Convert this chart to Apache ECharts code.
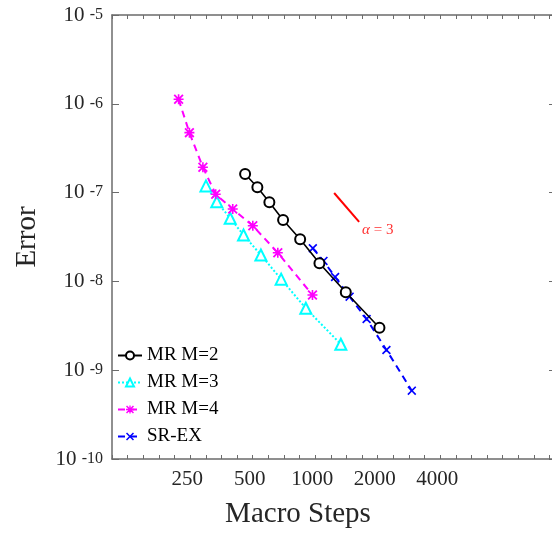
<!DOCTYPE html>
<html>
<head>
<meta charset="utf-8">
<script src="https://cdn.jsdelivr.net/npm/echarts@6/dist/echarts.min.js"></script>
<style>html,body{margin:0;padding:0;background:#fff}#c{width:552px;height:534px}</style>
</head>
<body>
<div id="c"></div>
<script>
// ---- data ----
const xTickLabels = [250, 500, 1000, 2000, 4000];
const yTickExponents = [-10, -9, -8, -7, -6, -5];

const m2Steps = [460, 527, 602, 701, 847, 1049, 1405, 2041];
const m2Error = [1.62e-7, 1.15e-7, 7.78e-8, 4.91e-8, 2.98e-8, 1.60e-8, 7.54e-9, 3.01e-9];

const m3Steps = [298, 336, 390, 452, 548, 686, 902, 1330];
const m3Error = [1.19e-7, 7.9e-8, 5.14e-8, 3.33e-8, 1.98e-8, 1.06e-8, 4.98e-9, 1.96e-9];

const m4Steps = [220, 248, 288, 332, 401, 501, 661, 971];
const m4Error = [1.124e-6, 4.73e-7, 1.93e-7, 9.57e-8, 6.53e-8, 4.24e-8, 2.10e-8, 7.03e-9];

const srSteps = [975, 1097, 1248, 1466, 1770, 2205, 2922];
const srError = [2.36e-8, 1.70e-8, 1.12e-8, 6.73e-9, 3.77e-9, 1.69e-9, 5.88e-10];

const slopeSteps = [1235, 1629];
const slopeError = [9.9e-8, 4.67e-8];
const slopeSymbol = 'α';
const slopeValue = '= 3';

const seriesNames = ['MR M=2', 'MR M=3', 'MR M=4', 'SR-EX'];

// ---- helpers ----
const zip = (xs, ys) => xs.map((x, i) => [x, ys[i]]);
const SERIF = "'Liberation Serif', 'DejaVu Serif', serif";
const AX = '#262626';
const AXLINE = '#6b6b6b';
const X_PATH = 'path://M0,1.3 L1.3,0 L5,3.7 L8.7,0 L10,1.3 L6.3,5 L10,8.7 L8.7,10 L5,6.3 L1.3,10 L0,8.7 L3.7,5 Z';
const STAR_PATH = 'path://M0,1.3 L1.3,0 L5,3.7 L8.7,0 L10,1.3 L6.3,5 L10,8.7 L8.7,10 L5,6.3 L1.3,10 L0,8.7 L3.7,5 Z M0,4.2 L10,4.2 L10,5.8 L0,5.8 Z M4.2,0 L5.8,0 L5.8,10 L4.2,10 Z';

const xMin = 250 * Math.pow(2, -1.25);
const xMax = 250 * Math.pow(2, 5.854);

const chart = echarts.init(document.getElementById('c'), null, {renderer: 'canvas'});

const xAxisCommon = {
  type: 'log', logBase: 2, min: xMin, max: xMax, interval: 0.25,
  axisLine: {show: true, lineStyle: {color: AXLINE, width: 1.5}},
  axisTick: {show: true, inside: true, length: 4, lineStyle: {color: AXLINE, width: 1}},
  splitLine: {show: false}, minorTick: {show: false}
};
const yAxisCommon = {
  type: 'log', logBase: 10, min: 1e-10, max: 1e-5,
  axisLine: {show: true, lineStyle: {color: AXLINE, width: 1.5}},
  axisTick: {show: true, inside: true, length: 7, lineStyle: {color: AXLINE, width: 1}},
  splitLine: {show: false}
};

chart.setOption({
  animation: false,
  backgroundColor: '#fff',
  grid: {left: 112, top: 15, right: -4, bottom: 75, containLabel: false, outerBoundsMode: 'none'},
  legend: {
    data: seriesNames,
    orient: 'vertical', left: 117, top: 346, padding: 0,
    itemWidth: 24, itemHeight: 10, itemGap: 8,
    textStyle: {fontFamily: SERIF, fontSize: 19, color: '#000'}
  },
  xAxis: [
    Object.assign({}, xAxisCommon, {
      position: 'bottom',
      name: 'Macro Steps', nameLocation: 'middle', nameGap: 41,
      nameTextStyle: {fontFamily: SERIF, fontSize: 29, color: AX, padding: [0, 72, 0, 0]},
      axisLabel: {
        margin: 10, fontFamily: SERIF, fontSize: 21, color: AX, padding: [0, 6, 0, 0],
        formatter: function (v) {
          const r = Math.round(v);
          return xTickLabels.some(t => Math.abs(t - v) < 0.5) ? String(r) : '';
        }
      }
    }),
    Object.assign({}, xAxisCommon, {position: 'top', axisLabel: {show: false}})
  ],
  yAxis: [
    Object.assign({}, yAxisCommon, {
      position: 'left',
      name: 'Error', nameLocation: 'middle', nameGap: 70, nameRotate: 90,
      nameTextStyle: {fontFamily: SERIF, fontSize: 29, color: AX},
      axisLabel: {
        margin: 9,
        formatter: function (v) {
          const e = Math.round(Math.log10(v));
          return yTickExponents.indexOf(e) >= 0 ? '{b|10 }{e|' + e + '}' : '';
        },
        rich: {
          b: {fontFamily: SERIF, fontSize: 21, lineHeight: 21, color: AX, padding: [7, 0, 0, 0], verticalAlign: 'bottom'},
          e: {fontFamily: SERIF, fontSize: 16, lineHeight: 16, color: AX, padding: [2, 0, 0, 0], verticalAlign: 'top'}
        }
      }
    }),
    Object.assign({}, yAxisCommon, {position: 'right', axisLabel: {show: false}})
  ],
  series: [
    {
      name: seriesNames[0], type: 'line', data: zip(m2Steps, m2Error), z: 5,
      symbol: 'emptyCircle', symbolSize: 10,
      itemStyle: {color: '#000', borderColor: '#000', borderWidth: 1.8},
      lineStyle: {color: '#000', width: 1.6, type: 'solid'}
    },
    {
      name: seriesNames[1], type: 'line', data: zip(m3Steps, m3Error), z: 3,
      symbol: 'emptyTriangle', symbolSize: 11,
      itemStyle: {color: '#00ffff', borderColor: '#00ffff', borderWidth: 2},
      lineStyle: {color: '#00ffff', width: 2, type: [2, 2]}
    },
    {
      name: seriesNames[2], type: 'line', data: zip(m4Steps, m4Error), z: 3,
      symbol: STAR_PATH, symbolSize: 10,
      itemStyle: {color: '#ff00ff'},
      lineStyle: {color: '#ff00ff', width: 2, type: [7, 5]}
    },
    {
      name: seriesNames[3], type: 'line', data: zip(srSteps, srError), z: 4,
      symbol: X_PATH, symbolSize: 9,
      itemStyle: {color: '#0000ff'},
      lineStyle: {color: '#0000ff', width: 2, type: [7, 5]}
    },
    {
      name: 'slope', type: 'line', data: zip(slopeSteps, slopeError),
      symbol: 'none', lineStyle: {color: '#ff0000', width: 2},
      endLabel: {
        show: true, offset: [-5, 8],
        formatter: '{a|' + slopeSymbol + '} ' + slopeValue,
        fontFamily: SERIF, fontSize: 15, color: '#ff3030',
        rich: {a: {fontFamily: SERIF, fontSize: 15, fontStyle: 'italic', color: '#ff3030'}}
      }
    }
  ]
});
</script>
</body>
</html>
